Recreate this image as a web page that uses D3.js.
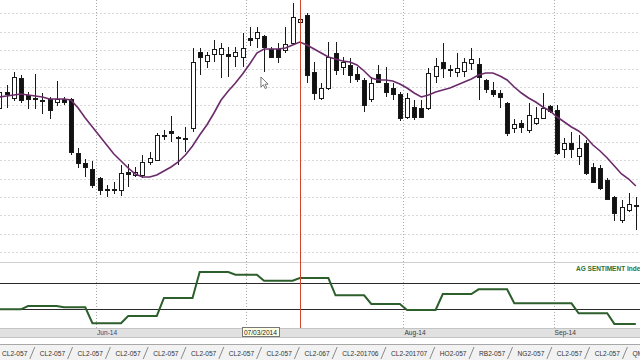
<!DOCTYPE html>
<html lang="en">

<head>
    <meta charset="UTF-8">
    <title>CL2-057 / AG Sentiment</title>
    <style>
    body {
        margin: 0;
        background: #fff;
    }

    svg {
        display: block;
        font-family: "Liberation Sans", Arial, sans-serif;
    }
    </style>
</head>

<body>
    <svg id="chart" width="640" height="360"></svg>
    <script src="https://d3js.org/d3.v7.min.js"></script>
    <script type="text/javascript">
    // one entry per trading day, starting 12 May 2014 (index 0)
    var opens = [99.70, 100.50, 100.20, 101.20, 100.35, 100.20, 100.10, 100.15, 100.00, 100.15,
        100.15, 97.45, 96.95, 96.65, 96.20, 95.65, 95.60, 95.60, 96.50, 96.35,
        96.35, 97.00, 97.10, 98.30, 98.55, 98.20, 98.15, 98.70, 102.50, 102.05,
        102.40, 102.40, 102.40, 102.30, 102.25, 103.20, 103.20, 103.30, 102.65, 102.65,
        102.60, 102.95, 104.00, 104.35, 101.50, 100.20, 100.70, 102.45, 101.75, 101.85,
        101.40, 101.10, 100.15, 101.40, 100.95, 100.70, 100.40, 99.25, 99.75, 99.70,
        99.70, 101.30, 102.00, 101.65, 101.50, 101.55, 101.95, 101.90, 101.10, 100.60,
        100.45, 99.95, 98.70, 98.95, 98.60, 98.95, 99.20, 99.80, 99.60, 97.65,
        97.95, 97.30, 97.95, 96.75, 96.70, 96.10, 95.25, 94.10, 94.60, 94.80];
    var highs = [100.70, 100.85, 101.50, 101.35, 100.50, 101.40, 100.45, 100.25, 101.05, 100.25,
        100.20, 97.70, 97.15, 97.05, 96.25, 95.85, 96.00, 96.85, 96.90, 96.75,
        97.35, 97.50, 98.45, 98.60, 99.30, 98.30, 98.75, 102.70, 102.70, 102.50,
        103.10, 102.95, 102.75, 102.75, 103.45, 103.75, 103.75, 103.35, 102.75, 102.95,
        103.75, 104.95, 104.35, 104.45, 102.00, 100.95, 103.00, 103.00, 102.25, 102.20,
        101.75, 101.20, 101.25, 101.85, 101.75, 100.95, 100.50, 100.45, 100.10, 100.10,
        101.70, 102.20, 102.95, 101.85, 102.45, 102.20, 102.70, 102.20, 101.15, 101.00,
        100.60, 100.00, 99.15, 99.10, 99.95, 99.75, 100.45, 99.85, 99.85, 98.20,
        98.50, 98.35, 98.10, 96.95, 96.85, 96.20, 95.30, 95.10, 95.45, 95.25];
    var lows = [99.50, 99.70, 100.05, 99.95, 99.65, 99.65, 99.40, 99.15, 99.80, 99.85,
        97.35, 96.70, 96.25, 95.70, 95.35, 95.25, 95.40, 95.30, 95.75, 96.25,
        96.20, 96.85, 97.05, 98.10, 98.00, 96.85, 97.50, 98.50, 101.35, 101.70,
        102.00, 101.20, 101.25, 101.75, 101.75, 102.80, 102.70, 101.50, 102.20, 101.95,
        102.45, 102.90, 103.90, 100.95, 100.10, 100.10, 100.60, 101.35, 101.35, 100.95,
        101.00, 99.50, 100.00, 100.95, 100.25, 100.10, 99.05, 99.15, 99.10, 99.20,
        99.60, 100.95, 101.20, 101.25, 101.25, 101.25, 101.60, 100.10, 100.45, 100.25,
        99.70, 98.30, 98.45, 98.45, 98.45, 98.85, 99.15, 99.45, 97.35, 97.20,
        97.20, 96.85, 96.35, 95.95, 95.60, 95.10, 94.05, 93.95, 94.50, 93.60];
    var closes = [100.50, 100.40, 101.25, 100.10, 100.15, 100.15, 100.05, 99.60, 100.15, 100.00,
        97.50, 96.95, 96.75, 95.85, 95.60, 95.60, 95.65, 96.45, 96.40, 96.50,
        97.00, 97.20, 98.35, 98.35, 98.45, 98.25, 98.20, 102.00, 102.25, 102.35,
        102.65, 102.70, 102.30, 102.50, 102.70, 103.10, 103.50, 102.75, 102.25, 102.25,
        102.90, 104.25, 104.15, 101.35, 100.45, 100.70, 102.25, 101.60, 102.00, 101.35,
        101.15, 99.85, 100.95, 101.00, 100.50, 100.40, 99.20, 100.20, 99.25, 99.25,
        101.45, 101.80, 101.70, 101.60, 101.70, 102.00, 102.15, 101.25, 100.65, 100.40,
        100.25, 98.45, 98.90, 98.75, 99.35, 99.20, 99.70, 99.55, 97.45, 97.95,
        97.65, 97.70, 96.45, 96.00, 95.70, 95.15, 94.45, 94.75, 94.90, 94.85];
    var movingAvg = [100.25, 100.30, 100.35, 100.40, 100.35, 100.30, 100.25, 100.15, 100.15, 100.15,
        100.10, 99.70, 99.20, 98.75, 98.30, 97.85, 97.40, 97.05, 96.70, 96.40,
        96.25, 96.25, 96.35, 96.55, 96.75, 97.00, 97.35, 97.80, 98.35, 98.85,
        99.45, 100.10, 100.55, 100.95, 101.40, 101.90, 102.45, 102.65, 102.65, 102.65,
        102.70, 102.85, 103.00, 102.85, 102.65, 102.45, 102.25, 102.15, 102.05, 102.00,
        101.85, 101.55, 101.20, 101.10, 101.10, 101.05, 100.90, 100.70, 100.45, 100.25,
        100.35, 100.50, 100.60, 100.70, 100.85, 101.00, 101.15, 101.35, 101.45, 101.45,
        101.30, 101.10, 100.75, 100.45, 100.20, 100.00, 99.75, 99.55, 99.25, 99.00,
        98.75, 98.55, 98.25, 97.85, 97.55, 97.20, 96.80, 96.40, 96.15, 95.80];
    var sentiment = [30, 30, 30, 30, 35, 35, 35, 35, 35, 33,
        33, 33, 33, 9, 9, 9, 9, 9, 20, 20,
        20, 20, 20, 47, 47, 47, 47, 47, 86, 86,
        86, 86, 86, 82, 82, 82, 82, 73, 73, 73,
        73, 73, 77, 77, 77, 77, 77, 51, 51, 51,
        51, 51, 38, 38, 38, 38, 38, 29, 29, 29,
        29, 29, 53, 53, 53, 53, 53, 60, 60, 60,
        60, 60, 39, 39, 39, 39, 39, 39, 39, 39,
        39, 24, 24, 24, 24, 24, 8, 8, 8, 8];
    var sentimentLevels = [30, 70];
    var monthLabels = ["Jun-14", "Jul-14", "Aug-14", "Sep-14"];
    var monthStarts = [14, 35, 57, 78];
    var markerDay = 42;
    var cursorDay = 37;
    var cursorPrice = 101.25;
    var cursorLabel = "07/03/2014";
    var tabLabels = ["CL2-057", "CL2-057", "CL2-057", "CL2-057", "CL2-057", "CL2-057", "CL2-057", "CL2-057",
        "CL2-067", "CL2-201706", "CL2-201707", "HO2-057", "RB2-057", "NG2-057", "CL2-057", "CL2-057", "QM2-057"];

    var svg = d3.select("#chart"),
        width = 640,
        mainBottom = 262,
        lowTop = 263,
        stripTop = 328,
        stripBottom = 337,
        tabTop = 344;

    var x = d3.scaleLinear().domain([0, 90]).range([-4.1, 639.4]),
        y = d3.scaleLinear().domain([92, 105.1]).range([mainBottom, 0]),
        s = d3.scaleLinear().domain([0, 100]).range([329.25, 262.75]);

    var candles = opens.map(function(o, i) {
        return { day: i, open: o, high: highs[i], low: lows[i], close: closes[i] };
    });

    var cx = function(d) { return Math.round(x(d + 0.5)); };

    svg.append("rect").attr("width", width).attr("height", 360).attr("fill", "#fff");

    var defs = svg.append("defs");
    defs.append("clipPath").attr("id", "mainClip")
        .append("rect").attr("x", 0).attr("y", 0).attr("width", width).attr("height", mainBottom);
    defs.append("clipPath").attr("id", "lowClip")
        .append("rect").attr("x", 0).attr("y", lowTop).attr("width", width).attr("height", stripTop - lowTop);

    // horizontal price grid
    var gridPrices = d3.range(0, 14).map(function(k) { return 104.425 - 0.9175 * k; });
    svg.append("g").selectAll("line")
        .data(gridPrices)
        .enter().append("line")
        .attr("x1", 0).attr("x2", width)
        .attr("y1", function(d) { return Math.round(y(d)) + 0.5; })
        .attr("y2", function(d) { return Math.round(y(d)) + 0.5; })
        .attr("stroke", "#d9d9d9")
        .attr("stroke-dasharray", "2,2");

    // month separators
    svg.append("g").selectAll("line")
        .data(monthStarts)
        .enter().append("line")
        .attr("x1", function(d) { return Math.round(x(d)) + 0.5; })
        .attr("x2", function(d) { return Math.round(x(d)) + 0.5; })
        .attr("y1", 0).attr("y2", stripTop)
        .attr("stroke", "#a9a9a9")
        .attr("stroke-dasharray", "1,2");

    // panel separator
    svg.append("line")
        .attr("x1", 0).attr("x2", width).attr("y1", mainBottom + 0.5).attr("y2", mainBottom + 0.5)
        .attr("stroke", "#cfcfcf");

    var main = svg.append("g").attr("clip-path", "url(#mainClip)");

    // candles
    var candle = main.selectAll(".candle")
        .data(candles)
        .enter().append("g")
        .attr("class", "candle");

    candle.append("line")
        .attr("x1", function(d) { return cx(d.day) + 0.5; })
        .attr("x2", function(d) { return cx(d.day) + 0.5; })
        .attr("y1", function(d) { return Math.round(y(d.high)); })
        .attr("y2", function(d) { return Math.round(y(d.low)); })
        .attr("stroke", "#1a1a1a");

    candle.append("rect")
        .attr("x", function(d) { return cx(d.day) - 1.5; })
        .attr("width", 4)
        .attr("y", function(d) { return Math.round(y(Math.max(d.open, d.close))) + 0.5; })
        .attr("height", function(d) {
            return Math.max(1, Math.round(Math.abs(y(d.open) - y(d.close))));
        })
        .attr("fill", function(d) { return d.close >= d.open ? "#fff" : "#111"; })
        .attr("stroke", "#1a1a1a");

    // moving average
    var maLine = d3.line()
        .x(function(d, i) { return x(i + 0.5); })
        .y(function(d) { return y(d); });

    main.append("path")
        .datum(movingAvg)
        .attr("d", maLine)
        .attr("fill", "none")
        .attr("stroke", "#6b2b6b")
        .attr("stroke-width", 1.6);

    // lower panel: sentiment index
    var low = svg.append("g").attr("clip-path", "url(#lowClip)");

    low.selectAll(".level")
        .data(sentimentLevels)
        .enter().append("line")
        .attr("class", "level")
        .attr("x1", 0).attr("x2", width)
        .attr("y1", function(d) { return Math.round(s(d)) + 0.5; })
        .attr("y2", function(d) { return Math.round(s(d)) + 0.5; })
        .attr("stroke", "#2a2a2a");

    var sLine = d3.line()
        .x(function(d, i) { return x(i + 0.5); })
        .y(function(d) { return s(d); });

    low.append("path")
        .datum(sentiment)
        .attr("d", sLine)
        .attr("fill", "none")
        .attr("stroke", "#2c5f2c")
        .attr("stroke-width", 2);

    svg.append("text")
        .attr("x", 576)
        .attr("y", 270.5)
        .attr("font-size", "6.5px")
        .attr("font-weight", "bold")
        .attr("fill", "#2f7030")
        .text("AG SENTIMENT Index");

    // red marker line
    svg.append("line")
        .attr("x1", cx(markerDay) + 0.5).attr("x2", cx(markerDay) + 0.5)
        .attr("y1", 0).attr("y2", stripTop)
        .attr("stroke", "#d2452a");

    // date axis strip
    svg.append("rect")
        .attr("x", 0).attr("y", stripTop).attr("width", width).attr("height", stripBottom - stripTop)
        .attr("fill", "#e1e1e1");
    svg.append("line")
        .attr("x1", 0).attr("x2", width).attr("y1", stripTop + 0.5).attr("y2", stripTop + 0.5)
        .attr("stroke", "#c4c4c4");
    svg.append("line")
        .attr("x1", 0).attr("x2", width).attr("y1", stripBottom + 0.5).attr("y2", stripBottom + 0.5)
        .attr("stroke", "#c4c4c4");

    svg.append("g").selectAll("text")
        .data(monthStarts)
        .enter().append("text")
        .filter(function(d, i) { return monthLabels[i] !== "Jul-14"; })
        .attr("x", function(d) { return x(d) + 1; })
        .attr("y", 335)
        .attr("font-size", "6.6px")
        .attr("fill", function(d, i) { return d === monthStarts[0] ? "#33457a" : "#3a3a3a"; })
        .text(function(d) { return monthLabels[monthStarts.indexOf(d)]; });

    // hover tooltip and cursor
    var tipX = x(cursorDay);
    svg.append("rect")
        .attr("x", Math.round(tipX - 18.5) + 0.5).attr("y", stripTop - 0.5)
        .attr("width", 37).attr("height", 9)
        .attr("fill", "#ffffe6")
        .attr("stroke", "#777");
    svg.append("text")
        .attr("x", tipX)
        .attr("y", 335)
        .attr("text-anchor", "middle")
        .attr("font-size", "6.6px")
        .attr("fill", "#222")
        .text(cursorLabel);

    svg.append("path")
        .attr("transform", "translate(" + (tipX + 0.5) + "," + y(cursorPrice) + ")")
        .attr("d", "M0,0 L0,10 L2.4,7.8 L4.2,11.5 L5.8,10.8 L4.1,7.2 L7.2,7.2 Z")
        .attr("fill", "#fff")
        .attr("stroke", "#555")
        .attr("stroke-width", 0.8);

    // sheet tabs
    svg.append("rect")
        .attr("x", 0).attr("y", tabTop).attr("width", width).attr("height", 360 - tabTop)
        .attr("fill", "#f2f2f2");
    svg.append("line")
        .attr("x1", 0).attr("x2", width).attr("y1", tabTop + 0.5).attr("y2", tabTop + 0.5)
        .attr("stroke", "#a8a8a8");

    var tabs = svg.append("g"),
        tabPos = 2;
    tabLabels.forEach(function(label) {
        var t = tabs.append("text")
            .attr("x", tabPos)
            .attr("y", 356)
            .attr("font-size", "6.6px")
            .attr("fill", "#333")
            .text(label);
        var w = t.node().getComputedTextLength();
        var sx = tabPos + w + 5;
        tabs.append("line")
            .attr("x1", sx - 2.5).attr("y1", 359)
            .attr("x2", sx + 2.5).attr("y2", 347)
            .attr("stroke", "#8a8a8a");
        tabPos = tabPos + w + 12.5;
    });
    </script>
</body>

</html>
